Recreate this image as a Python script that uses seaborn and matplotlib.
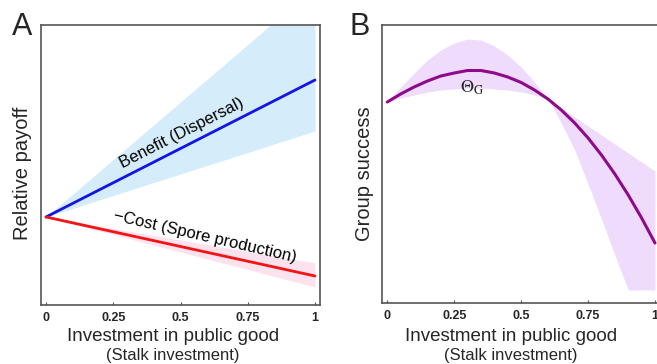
import numpy as np
import pandas as pd
import matplotlib
matplotlib.use("Agg")
import matplotlib.pyplot as plt
import seaborn as sns

# ---------------- data ----------------
# Panel A (straight lines, endpoints)
x_a = [0.0, 1.0]
benefit = [88, 225]
benefit_hi = [88, 318]
benefit_lo = [88, 174]
cost = [88, 29]
cost_hi = [88, 42]
cost_lo = [88, 18]

# Panel B (group success curve and band)
x_b = [0.0, 0.05, 0.1, 0.15, 0.2, 0.25, 0.3, 0.35, 0.4, 0.45, 0.5,
       0.55, 0.6, 0.65, 0.7, 0.75, 0.8, 0.85, 0.9, 0.95, 1.0]
success = [203, 211, 218, 224, 229, 232, 234.5, 234.5, 232, 228, 222.5,
           215, 206, 195, 182, 167, 150, 131, 110, 87, 62]
success_hi = [203, 218, 232, 245, 255, 262, 266, 265, 259, 250, 238,
              223, 206, 197, 188, 179, 170, 161, 152, 143, 134]
success_lo = [203, 207, 210, 213, 215, 216, 217, 217, 216, 215, 213,
              210, 206, 182, 155, 121, 86, 50, 15, 15, 15]

tick_vals = [0, 0.25, 0.5, 0.75, 1]
tick_labels = ["0", "0.25", "0.5", "0.75", "1"]

# ---------------- style ----------------
sns.set_theme(style="white")
plt.rcParams["font.family"] = ["Liberation Sans", "DejaVu Sans"]
plt.rcParams["mathtext.fontset"] = "stix"

W, H = 657, 364
fig = plt.figure(figsize=(W / 100, H / 100), dpi=100)

def px_axes(l, t, r, b):
    return fig.add_axes([l / W, 1 - b / H, (r - l) / W, (b - t) / H])

axA = px_axes(41, 25, 320, 305)
axB = px_axes(381.7, 25, 660, 303)

df_a = pd.DataFrame({"x": x_a, "benefit": benefit, "cost": cost})
df_b = pd.DataFrame({"x": x_b, "s": success})

# Panel A
axA.fill_between(x_a, benefit_lo, benefit_hi, color="#d5edfa", lw=0)
axA.fill_between(x_a, cost_lo, cost_hi, color="#fbe2ee", lw=0)
sns.lineplot(data=df_a, x="x", y="benefit", ax=axA, color="#1414e6", lw=2.0)
sns.lineplot(data=df_a, x="x", y="cost", ax=axA, color="#f41414", lw=2.0)
axA.set_xlim(-0.0186, 1.0186)
axA.set_ylim(0, 280)
axA.text(0.504, 171.7, "Benefit (Dispersal)", rotation=27, ha="center", va="center",
         fontsize=12, color="black", rotation_mode="anchor")
axA.text(0.591, 68.3, "\u2212Cost (Spore production)", rotation=-13, ha="center", va="center",
         fontsize=12, color="black", rotation_mode="anchor")

# Panel B
axB.fill_between(x_b, success_lo, success_hi, color="#efdcfc", lw=0)
sns.lineplot(data=df_b, x="x", y="s", ax=axB, color="#8e0a8a", lw=2.2)
axB.set_xlim(-0.0209, 1.0187)
axB.set_ylim(2, 280)
axB.text(0.315, 217, r"$\mathrm{\Theta_G}$", ha="center", va="center", fontsize=13)

for ax in (axA, axB):
    ax.set_xlabel("")
    ax.set_ylabel("")
    ax.set_yticks([])
    ax.set_xticks(tick_vals)
    ax.set_xticklabels(tick_labels, fontweight="bold", fontsize=9)
    ax.tick_params(axis="x", direction="in", length=2, width=0.8, pad=5,
                   color="#555555", bottom=True)
    for s in ax.spines.values():
        s.set_color("#555555")
        s.set_linewidth(1.2)
        s.set_visible(True)

# Labels
def ftext(xp, yp, s, **kw):
    fig.text(xp / W, 1 - yp / H, s, **kw)

ftext(173, 341, "Investment in public good", ha="center", va="baseline", fontsize=13.5)
ftext(173, 360, "(Stalk investment)", ha="center", va="baseline", fontsize=12)
ftext(511, 341, "Investment in public good", ha="center", va="baseline", fontsize=13.5)
ftext(511, 360, "(Stalk investment)", ha="center", va="baseline", fontsize=12)

ftext(23, 173, "Relative payoff", rotation=90, ha="center", va="center", fontsize=14.5)
ftext(364, 174, "Group success", rotation=90, ha="center", va="center", fontsize=14.5)

ftext(12, 35, "A", ha="left", va="baseline", fontsize=22)
ftext(350, 35, "B", ha="left", va="baseline", fontsize=22)

fig.savefig("out.png", dpi=100)
